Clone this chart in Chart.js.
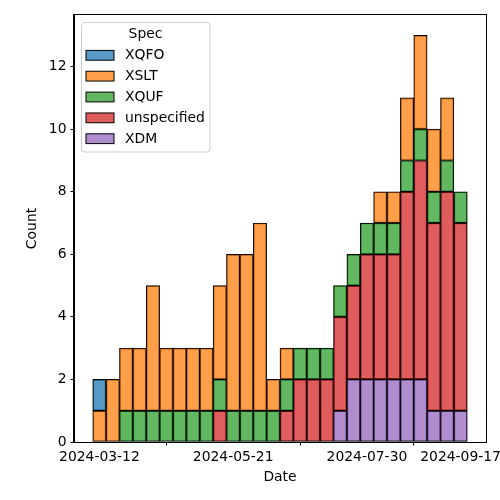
<!DOCTYPE html>
<html>
<head>
<meta charset="utf-8">
<script src="https://cdn.jsdelivr.net/npm/chart.js@4"></script>
<style>
  body { margin: 0; background: #fff; }
</style>
</head>
<body>
<canvas id="myChart" width="500" height="500"></canvas>
<script>
// weekly bins (bin centre dates)
const weeks = ['2024-03-12', '2024-03-19', '2024-03-26', '2024-04-02', '2024-04-09', '2024-04-16', '2024-04-23',
    '2024-04-30', '2024-05-07', '2024-05-14', '2024-05-21', '2024-05-28', '2024-06-04', '2024-06-11',
    '2024-06-18', '2024-06-25', '2024-07-02', '2024-07-09', '2024-07-16', '2024-07-23', '2024-07-30',
    '2024-08-06', '2024-08-13', '2024-08-20', '2024-08-27', '2024-09-03', '2024-09-10', '2024-09-17'];

// counts per spec (stack order: bottom to top)
const xdm         = [0, 0, 0, 0, 0, 0, 0, 0, 0, 0, 0, 0, 0, 0, 0, 0, 0, 0, 1, 2, 2, 2, 2, 2, 2, 1, 1, 1];
const unspecified = [0, 0, 0, 0, 0, 0, 0, 0, 0, 1, 0, 0, 0, 0, 1, 2, 2, 2, 3, 3, 4, 4, 4, 6, 7, 6, 7, 6];
const xquf        = [0, 0, 1, 1, 1, 1, 1, 1, 1, 1, 1, 1, 1, 1, 1, 1, 1, 1, 1, 1, 1, 1, 1, 1, 1, 1, 1, 1];
const xslt        = [1, 2, 2, 2, 4, 2, 2, 2, 2, 3, 5, 5, 6, 1, 1, 0, 0, 0, 0, 0, 0, 1, 1, 2, 3, 2, 2, 0];
const xqfo        = [1, 0, 0, 0, 0, 0, 0, 0, 0, 0, 0, 0, 0, 0, 0, 0, 0, 0, 0, 0, 0, 0, 0, 0, 0, 0, 0, 0];

const xTickLabels = ['2024-03-12', '2024-05-21', '2024-07-30', '2024-09-17'];
const yTicks = [0, 2, 4, 6, 8, 10, 12];

// legend order as shown in the picture
const legendNames = ['XQFO', 'XSLT', 'XQUF', 'unspecified', 'XDM'];

const colors = {
    XQFO: 'rgba(31, 119, 180, 0.75)',
    XSLT: 'rgba(255, 127, 14, 0.75)',
    XQUF: 'rgba(44, 160, 44, 0.75)',
    unspecified: 'rgba(214, 39, 40, 0.75)',
    XDM: 'rgba(148, 103, 189, 0.75)'
};

const DAY = 86400000;
const base = Date.UTC(2024, 2, 12);
function toDays(s) {
    const p = s.split('-');
    return Math.round((Date.UTC(+p[0], +p[1] - 1, +p[2]) - base) / DAY);
}
function toDateStr(d) {
    return new Date(base + d * DAY).toISOString().slice(0, 10);
}

const xs = weeks.map(toDays);
function makeSet(name, arr) {
    return {
        label: name,
        data: arr.map((v, i) => ({ x: xs[i], y: v === 0 ? null : v })),
        backgroundColor: colors[name],
        borderColor: '#000',
        borderWidth: 1,
        borderSkipped: false,
        barPercentage: 1.0,
        categoryPercentage: 1.0
    };
}

// x range: data edges +- 5% margin (like matplotlib)
const lo = xs[0] - 3.5, hi = xs[xs.length - 1] + 3.5;
const margin = (hi - lo) * 0.05;

const FS = 13.9;
Chart.defaults.font.family = 'DejaVu Sans';
Chart.defaults.font.size = FS;
Chart.defaults.color = '#000';

// frame + legend drawn inside the axes
const framePlugin = {
    id: 'frame',
    afterDatasetsDraw(chart) {
        const ctx = chart.ctx;
        const a = chart.chartArea;
        ctx.save();
        ctx.strokeStyle = '#000';
        ctx.lineWidth = 1;
        ctx.strokeRect(Math.round(a.left) - 0.5, Math.round(a.top) - 0.5,
            Math.round(a.right - a.left) + 1, Math.round(a.bottom - a.top) + 1);

        // legend box
        const bx = 81.5, by = 22.5, bw = 128.5, bh = 129.5, r = 3;
        ctx.beginPath();
        ctx.moveTo(bx + r, by);
        ctx.arcTo(bx + bw, by, bx + bw, by + bh, r);
        ctx.arcTo(bx + bw, by + bh, bx, by + bh, r);
        ctx.arcTo(bx, by + bh, bx, by, r);
        ctx.arcTo(bx, by, bx + bw, by, r);
        ctx.closePath();
        ctx.fillStyle = 'rgba(255,255,255,0.8)';
        ctx.fill();
        ctx.strokeStyle = '#cccccc';
        ctx.stroke();

        ctx.font = FS + 'px "DejaVu Sans"';
        ctx.fillStyle = '#000';
        ctx.textAlign = 'center';
        ctx.textBaseline = 'middle';
        ctx.fillText('Spec', 145.5, 34);

        ctx.textAlign = 'left';
        legendNames.forEach((name, i) => {
            const cy = 55.3 + i * 20.85;
            ctx.fillStyle = '#fff';
            ctx.fillRect(86, cy - 4.9, 28, 9.8);
            ctx.fillStyle = colors[name];
            ctx.fillRect(86, cy - 4.9, 28, 9.8);
            ctx.strokeStyle = '#000';
            ctx.strokeRect(86, cy - 4.9, 28, 9.8);
            ctx.fillStyle = '#000';
            ctx.fillText(name, 125, cy + 0.5);
        });
        ctx.restore();
    }
};

new Chart(document.getElementById('myChart').getContext('2d'), {
    type: 'bar',
    data: {
        datasets: [
            makeSet('XDM', xdm),
            makeSet('unspecified', unspecified),
            makeSet('XQUF', xquf),
            makeSet('XSLT', xslt),
            makeSet('XQFO', xqfo)
        ]
    },
    options: {
        responsive: false,
        animation: false,
        layout: { padding: { top: 15, right: 14, left: 0, bottom: 0 } },
        plugins: {
            legend: { display: false },
            tooltip: { enabled: false }
        },
        scales: {
            x: {
                type: 'linear',
                stacked: true,
                offset: false,
                min: lo - margin,
                max: hi + margin,
                afterBuildTicks: s => { s.ticks = xTickLabels.map(t => ({ value: toDays(t) })); },
                afterFit: s => { s.height = 58; s.paddingLeft = 0; s.paddingRight = 0; },
                ticks: {
                    callback: v => toDateStr(v),
                    maxRotation: 0,
                    autoSkip: false,
                    padding: 4
                },
                grid: { display: true, drawOnChartArea: false, drawTicks: true, tickLength: 3.5, color: '#000' },
                border: { color: '#000' },
                title: { display: true, text: 'Date', padding: { top: 0, bottom: 14 } }
            },
            y: {
                stacked: true,
                min: 0,
                max: 13.65,
                afterBuildTicks: s => { s.ticks = yTicks.map(v => ({ value: v })); },
                afterFit: s => { s.width = 74; },
                ticks: { padding: 4 },
                grid: { display: true, drawOnChartArea: false, drawTicks: true, tickLength: 3.5, color: '#000' },
                border: { color: '#000' },
                title: { display: true, text: 'Count', padding: { top: 24.5, bottom: 0 } }
            }
        }
    },
    plugins: [framePlugin]
});
</script>
</body>
</html>
